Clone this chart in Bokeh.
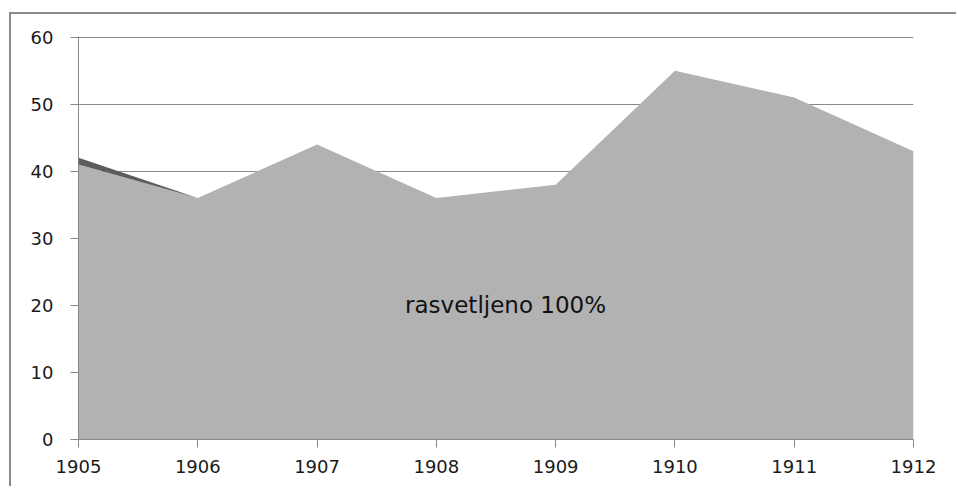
from bokeh.plotting import figure
from bokeh.models import ColumnDataSource, Label, FixedTicker
from bokeh.embed import file_html
from bokeh.resources import INLINE

years = [1905, 1906, 1907, 1908, 1909, 1910, 1911, 1912]
lit_100 = [41, 36, 44, 36, 38, 55, 51, 43]
other = [1, 0, 0, 0, 0, 0, 0, 0]
y_ticks = [0, 10, 20, 30, 40, 50, 60]
grid_ticks = [10, 20, 30, 40, 50, 60]
label_text = "rasvetljeno 100%"

src = ColumnDataSource(dict(year=years, lit_100=lit_100, other=other))

p = figure(width=947, height=474, output_backend="svg", toolbar_location=None,
           x_range=(1905, 1912), y_range=(0, 60.1),
           min_border_left=67, min_border_right=45, min_border_top=22, min_border_bottom=49)
p.styles = {"margin-left": "9px", "margin-top": "12px",
            "border-left": "2px solid #8a8a8a", "border-top": "2px solid #8a8a8a"}
p.outline_line_color = None
p.background_fill_color = "white"
p.border_fill_color = "white"

p.varea_stack(stackers=["lit_100", "other"], x="year", source=src,
              color=["#b2b2b2", "#5c5c5c"])

FONT = "DejaVu Sans"
p.xaxis.ticker = FixedTicker(ticks=years)
p.yaxis.ticker = FixedTicker(ticks=y_ticks)
for ax in (p.xaxis[0], p.yaxis[0]):
    ax.axis_line_color = "#888888"
    ax.major_tick_line_color = "#888888"
    ax.major_tick_in = 0
    ax.major_tick_out = 8
    ax.minor_tick_line_color = None
    ax.major_label_text_font = FONT
    ax.major_label_text_font_size = "18px"
    ax.major_label_text_color = "#1a1a1a"
p.yaxis.major_label_standoff = 17
p.xaxis.major_label_standoff = 12

p.xgrid.grid_line_color = None
p.ygrid.grid_line_color = "#888888"
p.ygrid.ticker = FixedTicker(ticks=grid_ticks)

p.add_layout(Label(x=1908.58, y=20, text=label_text, text_align="center",
                   text_baseline="middle", text_font=FONT, text_font_size="23px",
                   text_color="#111111"))

open("out.html", "w").write(file_html(p, INLINE))
